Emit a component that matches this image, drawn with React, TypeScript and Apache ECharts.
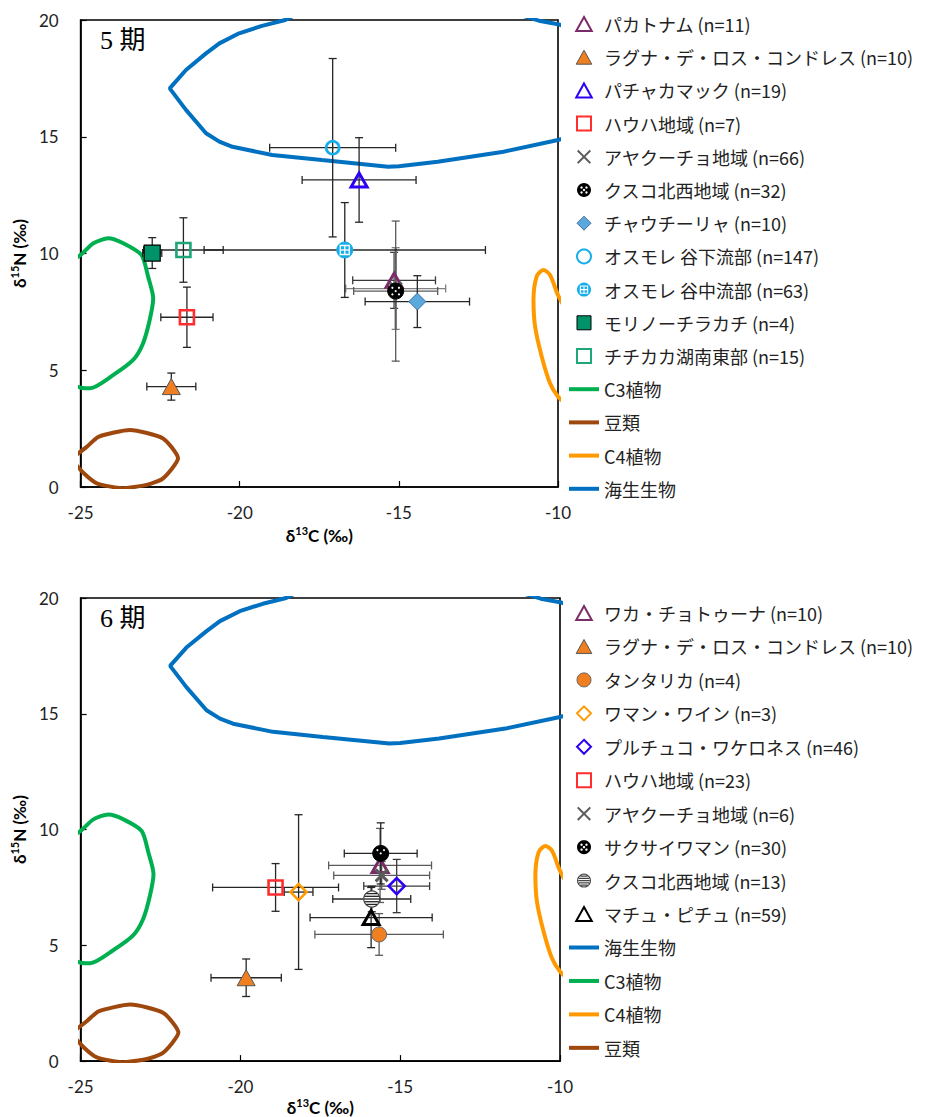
import { useEffect, useRef } from 'react';
import * as echarts from 'echarts';

// ---------------- Data: 5期 ----------------
const P5_NAMES = [
  'パカトナム (n=11)',
  'ラグナ・デ・ロス・コンドレス (n=10)',
  'パチャカマック (n=19)',
  'ハウハ地域 (n=7)',
  'アヤクーチョ地域 (n=66)',
  'クスコ北西地域 (n=32)',
  'チャウチーリャ (n=10)',
  'オスモレ 谷下流部 (n=147)',
  'オスモレ 谷中流部 (n=63)',
  'モリノーチラカチ (n=4)',
  'チチカカ湖南東部 (n=15)',
];
const P5_X = [-15.15, -22.15, -16.25, -21.66, -15.1, -15.1, -14.42, -17.08, -16.7, -22.75, -21.77];
const P5_Y = [8.85, 4.3, 13.15, 7.27, 8.5, 8.39, 7.94, 14.53, 10.15, 10.02, 10.15];
const P5_XERR = [1.3, 0.77, 1.79, 0.82, 1.57, 1.32, 1.64, 1.98, 4.42, 0.3, 1.25];
const P5_YERR = [1.2, 0.58, 1.81, 1.29, 1.75, 3.0, 1.11, 3.82, 2.03, 0.66, 1.38];

// ---------------- Data: 6期 ----------------
const P6_NAMES = [
  'ワカ・チョトゥーナ (n=10)',
  'ラグナ・デ・ロス・コンドレス (n=10)',
  'タンタリカ (n=4)',
  'ワマン・ワイン (n=3)',
  'プルチュコ・ワケロネス (n=46)',
  'ハウハ地域 (n=23)',
  'アヤクーチョ地域 (n=6)',
  'サクサイワマン (n=30)',
  'クスコ北西地域 (n=13)',
  'マチュ・ピチュ (n=59)',
];
const P6_X = [-15.63, -19.82, -15.66, -18.18, -15.11, -18.9, -15.58, -15.61, -15.89, -15.91];
const P6_Y = [8.45, 3.6, 5.47, 7.3, 7.56, 7.5, 8.02, 8.97, 7.0, 6.2];
const P6_XERR = [1.61, 1.1, 2.01, 0.45, 1.03, 1.97, 1.5, 1.14, 1.22, 1.91];
const P6_YERR = [1.6, 0.81, 0.9, 3.34, 1.15, 1.03, 0.6, 1.32, 0.55, 1.3];

// ---------------- Reference regions (contours) ----------------
const MARINE_X = [-18.0, -18.57, -19.3, -20.02, -20.64, -21.06, -21.69, -22.2, -21.69, -21.06, -20.64, -20.23, -18.98, -17.42, -15.34, -15.0, -13.78, -11.71, -10.0, -9.0, -9.0, -10.0, -10.6, -11.4, -18.0];
const MARINE_Y = [20.4, 20.0, 19.75, 19.43, 19.0, 18.57, 17.86, 17.07, 16.15, 15.15, 14.79, 14.57, 14.22, 14.0, 13.72, 13.74, 13.93, 14.36, 14.86, 15.3, 19.4, 19.82, 19.97, 20.3, 20.4];
const C3_X = [-25.8, -25.0, -24.6, -24.13, -23.66, -23.09, -22.88, -22.72, -22.83, -23.04, -23.35, -23.97, -24.7, -25.0, -25.8];
const C3_Y = [9.2, 9.94, 10.44, 10.65, 10.44, 9.94, 9.01, 8.08, 7.15, 6.15, 5.44, 4.8, 4.23, 4.25, 4.8];
const LEG_X = [-25.3, -24.8, -24.44, -23.45, -22.41, -21.94, -22.41, -22.93, -23.7, -24.49, -24.9, -25.3];
const LEG_Y = [1.2, 1.73, 2.15, 2.44, 2.08, 1.23, 0.37, 0.09, -0.05, 0.16, 0.59, 1.2];
const C4_X = [-9.5, -10.0, -10.25, -10.46, -10.67, -10.77, -10.72, -10.51, -10.25, -10.0, -9.6];
const C4_Y = [7.0, 8.22, 9.08, 9.29, 9.01, 8.01, 6.87, 5.58, 4.44, 3.87, 3.4];

const LINE_NAMES = { c3: 'C3植物', leg: '豆類', c4: 'C4植物', marine: '海生生物' };

// ---------------- Styles ----------------
const COL = {
  purple: '#7B2C68', orange: '#F07F22', blue: '#2E00F5', red: '#FF2D2D', gray: '#5A5A5A',
  black: '#000000', chau: '#5BA8DD', cyan: '#15AEEA', teal: '#00936A', tealO: '#1EA57A',
  orangeO: '#FF9A00', stripe: '#444444',
  c3: '#00B050', leg: '#9E480E', c4: '#FF9900', marine: '#0070C0',
};
const P5_MARK = ['triOpen', 'triFill', 'triOpen', 'sqOpen', 'cross', 'dotCircle', 'diaFill', 'circOpen', 'gridCircle', 'sqFill', 'sqOpen'];
const P5_COL = [COL.purple, COL.orange, COL.blue, COL.red, COL.gray, COL.black, COL.chau, COL.cyan, COL.cyan, COL.teal, COL.tealO];
const P5_BAR = ['#3a3a3a', '#262626', '#262626', '#262626', '#808080', '#5a5a5a', '#262626', '#262626', '#262626', '#262626', '#262626'];
const P6_MARK = ['triOpen', 'triFill', 'circFill', 'diaOpen', 'diaOpen', 'sqOpen', 'cross', 'dotCircle', 'stripeCircle', 'triOpen'];
const P6_COL = [COL.purple, COL.orange, COL.orange, COL.orangeO, COL.blue, COL.red, COL.gray, COL.black, COL.stripe, COL.black];
const P6_BAR = ['#5a5a5a', '#262626', '#5a5a5a', '#262626', '#3a3a3a', '#262626', '#5a5a5a', '#262626', '#262626', '#262626'];

// ---------- icon paths for legend ----------
function circ(cx: number, cy: number, r: number, ccw: boolean, n = 28) {
  const pts: string[] = [];
  for (let i = 0; i < n; i++) {
    const a = (ccw ? -1 : 1) * (2 * Math.PI * i) / n;
    pts.push((cx + r * Math.cos(a)).toFixed(2) + ',' + (cy + r * Math.sin(a)).toFixed(2));
  }
  return 'M' + pts.join('L') + 'Z';
}
function rectCW(x1: number, y1: number, x2: number, y2: number) {
  return `M${x1},${y1}H${x2}V${y2}H${x1}Z`;
}
function rectCCW(x1: number, y1: number, x2: number, y2: number) {
  return `M${x1},${y1}V${y2}H${x2}V${y1}Z`;
}
const ICON_TRI = 'path://M10,0L20,18L0,18Z';
const ICON_SQ = 'path://M0,0H20V20H0Z';
const ICON_DIA = 'path://M10,0L20,10L10,20L0,10Z';
const ICON_CIRC = 'path://' + circ(10, 10, 10, false);
const ICON_X = 'path://M2,0L10,8L18,0L20,2L12,10L20,18L18,20L10,12L2,20L0,18L8,10L0,2Z';
const ICON_DOT = 'path://' + circ(10, 10, 10, false) +
  [[6.5, 6.5], [13.5, 6.5], [10, 10], [6.5, 13.5], [13.5, 13.5]].map(p => circ(p[0], p[1], 1.7, true, 12)).join('');
const ICON_GRID = 'path://' + circ(10, 10, 10, false) + rectCCW(4, 4, 16, 16) +
  rectCW(5.6, 5.6, 9.2, 9.2) + rectCW(10.8, 5.6, 14.4, 9.2) + rectCW(5.6, 10.8, 9.2, 14.4) + rectCW(10.8, 10.8, 14.4, 14.4);
const ICON_STRIPE = 'path://' + circ(10, 10, 10, false) + circ(10, 10, 8.4, true) +
  [[2.8, 4.4], [6.0, 7.6], [9.2, 10.8], [12.4, 14.0], [15.6, 17.2]].map(([a, b]) => {
    const yc = (a + b) / 2 - 10;
    const hw = Math.sqrt(Math.max(0, 8.4 * 8.4 - yc * yc)) - 0.3;
    return rectCW(10 - hw, a, 10 + hw, b);
  }).join('');
const ICON_LINE = 'path://M0,0H30V4H0Z';

function legendItem(name: string, kind: string, color: string) {
  const open = { color: '#fff', borderColor: color, borderWidth: 2 };
  const solid = (bc: string) => ({ color, borderColor: bc, borderWidth: 1 });
  switch (kind) {
    case 'triOpen': return { name, icon: ICON_TRI, itemStyle: open };
    case 'triFill': return { name, icon: ICON_TRI, itemStyle: solid('#555') };
    case 'sqOpen': return { name, icon: ICON_SQ, itemStyle: open };
    case 'sqFill': return { name, icon: ICON_SQ, itemStyle: solid('#000') };
    case 'diaOpen': return { name, icon: ICON_DIA, itemStyle: open };
    case 'diaFill': return { name, icon: ICON_DIA, itemStyle: solid('#41719C') };
    case 'circOpen': return { name, icon: ICON_CIRC, itemStyle: open };
    case 'circFill': return { name, icon: ICON_CIRC, itemStyle: solid('#666') };
    case 'cross': return { name, icon: ICON_X, itemStyle: { color, borderWidth: 0 } };
    case 'dotCircle': return { name, icon: ICON_DOT, itemStyle: { color, borderWidth: 0 } };
    case 'gridCircle': return { name, icon: ICON_GRID, itemStyle: { color, borderWidth: 0 } };
    case 'stripeCircle': return { name, icon: ICON_STRIPE, itemStyle: { color, borderWidth: 0 } };
    default: return { name, icon: ICON_LINE, itemStyle: { color, borderWidth: 0 } };
  }
}

// ---------- marker drawing in the plot ----------
function markerShapes(kind: string, color: string, cx: number, cy: number): any[] {
  const none = 'rgba(0,0,0,0)';
  const tri = (w: number, h: number) => [[cx, cy - h / 2], [cx + w / 2, cy + h / 2], [cx - w / 2, cy + h / 2]];
  const dia = (r: number) => [[cx, cy - r], [cx + r, cy], [cx, cy + r], [cx - r, cy]];
  switch (kind) {
    case 'triOpen':
      return [{ type: 'polygon', shape: { points: tri(16, 14) }, style: { fill: none, stroke: color, lineWidth: 3 } }];
    case 'triFill':
      return [{ type: 'polygon', shape: { points: tri(18, 16) }, style: { fill: color, stroke: '#555', lineWidth: 1 } }];
    case 'sqOpen':
      return [{ type: 'rect', shape: { x: cx - 7, y: cy - 7, width: 14, height: 14 }, style: { fill: none, stroke: color, lineWidth: 2.6 } }];
    case 'sqFill':
      return [{ type: 'rect', shape: { x: cx - 8, y: cy - 8, width: 16, height: 16 }, style: { fill: color, stroke: '#000', lineWidth: 1.2 } }];
    case 'diaOpen':
      return [{ type: 'polygon', shape: { points: dia(8) }, style: { fill: none, stroke: color, lineWidth: 2.6 } }];
    case 'diaFill':
      return [{ type: 'polygon', shape: { points: dia(8.5) }, style: { fill: color, stroke: '#41719C', lineWidth: 1 } }];
    case 'circOpen':
      return [{ type: 'circle', shape: { cx, cy, r: 6.5 }, style: { fill: none, stroke: color, lineWidth: 2.6 } }];
    case 'circFill':
      return [{ type: 'circle', shape: { cx, cy, r: 7.5 }, style: { fill: color, stroke: '#666', lineWidth: 1 } }];
    case 'cross':
      return [
        { type: 'line', shape: { x1: cx - 6, y1: cy - 6, x2: cx + 6, y2: cy + 6 }, style: { stroke: color, lineWidth: 3 } },
        { type: 'line', shape: { x1: cx - 6, y1: cy + 6, x2: cx + 6, y2: cy - 6 }, style: { stroke: color, lineWidth: 3 } },
      ];
    case 'dotCircle':
      return [
        { type: 'circle', shape: { cx, cy, r: 8 }, style: { fill: '#000', stroke: '#000', lineWidth: 1 } },
        ...[[-3.3, -3.3], [3.3, -3.3], [0, 0], [-3.3, 3.3], [3.3, 3.3]].map(d => ({
          type: 'circle', shape: { cx: cx + d[0], cy: cy + d[1], r: 1.1 }, style: { fill: '#fff' },
        })),
      ];
    case 'gridCircle': {
      const w = { stroke: '#fff', lineWidth: 1.3 };
      return [
        { type: 'circle', shape: { cx, cy, r: 8 }, style: { fill: color, stroke: color, lineWidth: 1 } },
        { type: 'rect', shape: { x: cx - 4.5, y: cy - 4.5, width: 9, height: 9 }, style: { fill: 'none', ...w } },
        { type: 'line', shape: { x1: cx, y1: cy - 4.5, x2: cx, y2: cy + 4.5 }, style: w },
        { type: 'line', shape: { x1: cx - 4.5, y1: cy, x2: cx + 4.5, y2: cy }, style: w },
      ];
    }
    case 'stripeCircle': {
      const r = 8;
      const lines = [-5.4, -2.7, 0, 2.7, 5.4].map(dy => {
        const hw = Math.sqrt(r * r - dy * dy) - 0.4;
        return { type: 'line', shape: { x1: cx - hw, y1: cy + dy, x2: cx + hw, y2: cy + dy }, style: { stroke: '#222', lineWidth: 1.3 } };
      });
      return [
        { type: 'circle', shape: { cx, cy, r }, style: { fill: '#fff', stroke: '#444', lineWidth: 1.2 } },
        ...lines,
      ];
    }
    default:
      return [];
  }
}

function errorBarRender(colors: string[]) {
  return (params: any, api: any) => {
    const x = api.value(0), y = api.value(1), ex = api.value(2), ey = api.value(3);
    const l = api.coord([x - ex, y]);
    const r = api.coord([x + ex, y]);
    const t = api.coord([x, y + ey]);
    const b = api.coord([x, y - ey]);
    const c = 4;
    const color = colors[params.dataIndex] || '#262626';
    const lw = color === '#808080' ? 2.4 : 1.3;
    const st = { stroke: color, lineWidth: lw };
    const stc = { stroke: color, lineWidth: 1.3 };
    return {
      type: 'group',
      children: [
        { type: 'line', shape: { x1: l[0], y1: l[1], x2: r[0], y2: r[1] }, style: stc },
        { type: 'line', shape: { x1: l[0], y1: l[1] - c, x2: l[0], y2: l[1] + c }, style: stc },
        { type: 'line', shape: { x1: r[0], y1: r[1] - c, x2: r[0], y2: r[1] + c }, style: stc },
        { type: 'line', shape: { x1: t[0], y1: t[1], x2: b[0], y2: b[1] }, style: st },
        { type: 'line', shape: { x1: t[0] - c, y1: t[1], x2: t[0] + c, y2: t[1] }, style: stc },
        { type: 'line', shape: { x1: b[0] - c, y1: b[1], x2: b[0] + c, y2: b[1] }, style: stc },
      ],
    };
  };
}

function contourSeries(name: string, xs: number[], ys: number[], color: string, idx: number, smooth: number | boolean) {
  return {
    type: 'line', name, xAxisIndex: idx, yAxisIndex: idx,
    data: xs.map((x, i) => [x, ys[i]]),
    symbol: 'none', showSymbol: false, smooth, clip: true, silent: true,
    lineStyle: { color, width: 4 }, itemStyle: { color }, z: 1,
  };
}

function panelSeries(names: string[], xs: number[], ys: number[], xe: number[], ye: number[],
  marks: string[], cols: string[], bars: string[], idx: number) {
  const out: any[] = [];
  out.push({
    type: 'custom', name: 'errorbars' + idx, xAxisIndex: idx, yAxisIndex: idx, z: 3, silent: true,
    data: xs.map((x, i) => [x, ys[i], xe[i], ye[i]]),
    encode: { x: 0, y: 1 },
    renderItem: errorBarRender(bars),
  });
  names.forEach((name, i) => {
    out.push({
      type: 'custom', name, xAxisIndex: idx, yAxisIndex: idx, z: 4, silent: true,
      data: [[xs[i], ys[i]]],
      encode: { x: 0, y: 1 },
      itemStyle: { color: cols[i] },
      renderItem: (_p: any, api: any) => {
        const p = api.coord([api.value(0), api.value(1)]);
        return { type: 'group', children: markerShapes(marks[i], cols[i], p[0], p[1]) };
      },
    });
  });
  return out;
}

const TICK_FONT = 'Lato, "Liberation Sans", sans-serif';
const TITLE_FONT = 'Lato, "Noto Sans", sans-serif';
const JP_FONT = '"Noto Sans CJK JP", sans-serif';

const titleRich = {
  d: { fontSize: 17, fontWeight: 'bold', fontFamily: TITLE_FONT, color: '#000', lineHeight: 20, verticalAlign: 'bottom' },
  s: { fontSize: 11, fontWeight: 'bold', fontFamily: TITLE_FONT, color: '#000', lineHeight: 20, verticalAlign: 'top', padding: [1, 0, 0, 0] },
};

function xAxisCfg(gridIndex: number, nameGap: number) {
  return {
    type: 'value', gridIndex, min: -25, max: -10, interval: 5,
    name: '{d|δ}{s|13}{d|C (‰)}', nameLocation: 'middle', nameGap,
    nameTextStyle: { rich: titleRich },
    axisLine: { show: true, onZero: false, lineStyle: { color: '#000', width: 1.6 } },
    axisTick: { show: true, inside: true, length: 6, lineStyle: { color: '#000', width: 1.2 } },
    axisLabel: { margin: 17, fontSize: 17, fontFamily: TICK_FONT, color: '#222' },
    splitLine: { show: false },
  };
}
function yAxisCfg(gridIndex: number) {
  return {
    type: 'value', gridIndex, min: 0, max: 20, interval: 5,
    name: '{d|δ}{s|15}{d|N (‰)}', nameLocation: 'middle', nameGap: 36,
    nameTextStyle: { rich: titleRich },
    axisLine: { show: true, onZero: false, lineStyle: { color: '#000', width: 1.6 } },
    axisTick: { show: true, inside: true, length: 6, lineStyle: { color: '#000', width: 1.2 } },
    axisLabel: { margin: 22, fontSize: 17, fontFamily: TICK_FONT, color: '#222' },
    splitLine: { show: false },
  };
}

export default function App() {
  const ref = useRef<HTMLDivElement>(null);
  useEffect(() => {
    if (!ref.current) return;
    const chart = echarts.init(ref.current, undefined, { renderer: 'svg' });

    const p5Legend = [
      ...P5_NAMES.map((n, i) => legendItem(n, P5_MARK[i], P5_COL[i])),
      legendItem(LINE_NAMES.c3, 'line', COL.c3),
      legendItem(LINE_NAMES.leg, 'line', COL.leg),
      legendItem(LINE_NAMES.c4, 'line', COL.c4),
      legendItem(LINE_NAMES.marine, 'line', COL.marine),
    ];
    const p6Legend = [
      ...P6_NAMES.map((n, i) => legendItem(n, P6_MARK[i], P6_COL[i])),
      legendItem(LINE_NAMES.marine, 'line', COL.marine),
      legendItem(LINE_NAMES.c3, 'line', COL.c3),
      legendItem(LINE_NAMES.c4, 'line', COL.c4),
      legendItem(LINE_NAMES.leg, 'line', COL.leg),
    ];
    const legendBase = {
      orient: 'vertical', left: 569, padding: 0, itemWidth: 30, itemHeight: 14,
      symbolKeepAspect: true, selectedMode: false,
      textStyle: { fontSize: 18, fontFamily: JP_FONT, color: '#222' },
    };

    const series: any[] = [];
    [0, 1].forEach(idx => {
      series.push(contourSeries(LINE_NAMES.marine, MARINE_X, MARINE_Y, COL.marine, idx, false));
      series.push(contourSeries(LINE_NAMES.c3, C3_X, C3_Y, COL.c3, idx, 0.25));
      series.push(contourSeries(LINE_NAMES.leg, LEG_X, LEG_Y, COL.leg, idx, 0.2));
      series.push(contourSeries(LINE_NAMES.c4, C4_X, C4_Y, COL.c4, idx, 0.3));
    });
    series.push(...panelSeries(P5_NAMES, P5_X, P5_Y, P5_XERR, P5_YERR, P5_MARK, P5_COL, P5_BAR, 0));
    series.push(...panelSeries(P6_NAMES, P6_X, P6_Y, P6_XERR, P6_YERR, P6_MARK, P6_COL, P6_BAR, 1));

    chart.setOption({
      animation: false,
      backgroundColor: '#fff',
      grid: [
        { left: 77, top: 20, width: 481, height: 467, show: true, borderColor: '#000', borderWidth: 1.6, containLabel: false },
        { left: 76, top: 598, width: 484, height: 464, show: true, borderColor: '#000', borderWidth: 1.6, containLabel: false },
      ],
      xAxis: [xAxisCfg(0, 37), xAxisCfg(1, 32)],
      yAxis: [yAxisCfg(0), yAxisCfg(1)],
      legend: [
        { ...legendBase, top: 15, itemGap: 15.2, data: p5Legend },
        { ...legendBase, top: 604, itemGap: 15.45, data: p6Legend },
      ],
      graphic: [
        { type: 'text', left: 100, top: 27, style: { text: '5 期', fontSize: 26, fontFamily: '"Liberation Serif", "Noto Sans CJK JP", serif', fill: '#000' } },
        { type: 'text', left: 100, top: 605, style: { text: '6 期', fontSize: 26, fontFamily: '"Liberation Serif", "Noto Sans CJK JP", serif', fill: '#000' } },
      ],
      series,
    });
    return () => chart.dispose();
  }, []);
  return <div ref={ref} style={{ position: 'absolute', left: 0, top: 0, width: 925, height: 1117, background: '#fff' }} />;
}
